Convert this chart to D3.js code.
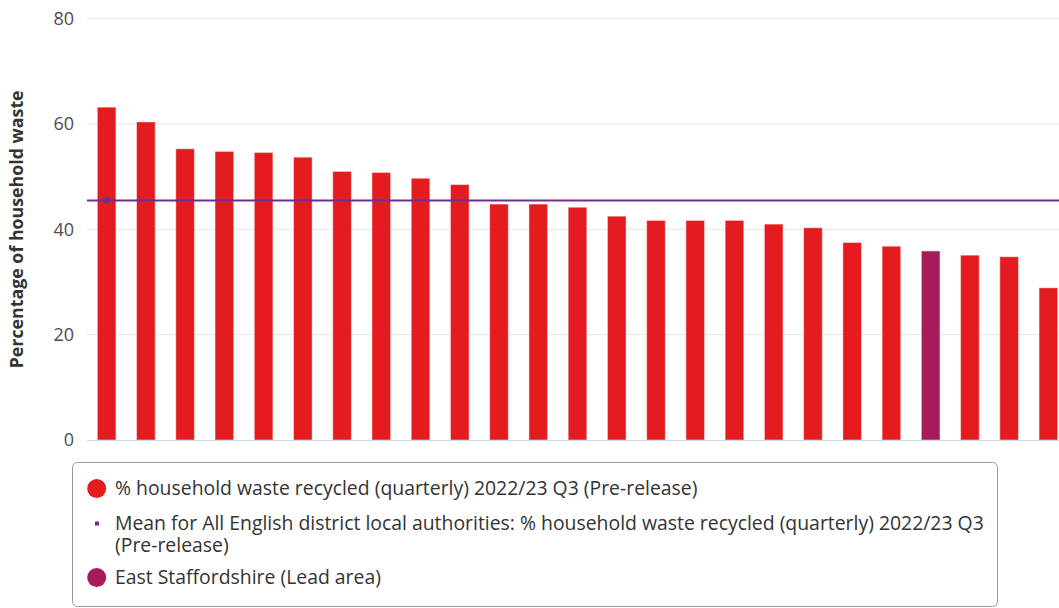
<!DOCTYPE html>
<html><head><meta charset="utf-8">
<script src="https://cdn.jsdelivr.net/npm/d3@7"></script>
<style>
html,body{margin:0;padding:0;background:#fff;overflow:hidden;}
svg{display:block;font-family:"Open Sans",sans-serif;}
</style></head>
<body>
<svg id="chart" width="1059" height="608"></svg>
<script>
const categories = ["District 1","District 2","District 3","District 4","District 5","District 6","District 7","District 8","District 9","District 10","District 11","District 12","District 13","District 14","District 15","District 16","District 17","District 18","District 19","District 20","District 21","East Staffordshire","District 23","District 24","District 25"];
const values = [63.2,60.4,55.3,54.8,54.6,53.7,51.0,50.8,49.7,48.5,44.8,44.8,44.2,42.5,41.7,41.7,41.7,41.0,40.3,37.5,36.8,35.9,35.1,34.8,28.9];
const leadArea = "East Staffordshire";
const meanValue = 45.5;
const yTicks = [0,20,40,60,80];
const yTitle = "Percentage of household waste";
const legendItems = [
  {type:"circle", color:"#e41c1f", lines:["% household waste recycled (quarterly) 2022/23 Q3 (Pre-release)"]},
  {type:"square", color:"#6f2c91", lines:["Mean for All English district local authorities: % household waste recycled (quarterly) 2022/23 Q3","(Pre-release)"]},
  {type:"circle", color:"#a91a58", lines:["East Staffordshire (Lead area)"]}
];

const svg = d3.select("#chart");
const x = d3.scaleBand().domain(categories).range([87, 1068]).paddingInner(0.525).paddingOuter(0.2625);
const y = d3.scaleLinear().domain([0, 80]).range([440, 18.7]);

// gridlines
svg.append("g").selectAll("line").data(yTicks.filter(d=>d>0)).join("line")
  .attr("x1", 87).attr("x2", 1059)
  .attr("y1", d=>y(d)).attr("y2", d=>y(d))
  .attr("stroke", "#e6e6e6").attr("stroke-width", 1);

// y axis labels
const yAxis = d3.axisLeft(y).tickValues(yTicks).tickSize(0).tickPadding(0);
const gy = svg.append("g").attr("transform", "translate(74,0)").call(yAxis);
gy.select(".domain").remove();
gy.selectAll("text").attr("font-family", "'Open Sans',sans-serif").attr("font-size", 18).attr("fill", "#4d4d4d").attr("dy", "0.33em");

// bars
svg.append("g").selectAll("rect").data(values).join("rect")
  .attr("x", (d,i)=>x(categories[i]))
  .attr("width", x.bandwidth())
  .attr("y", d=>y(d))
  .attr("height", d=>y(0)-y(d))
  .attr("fill", (d,i)=>categories[i]===leadArea ? "#a91a58" : "#e41c1f")
  .attr("stroke", "#fff").attr("stroke-opacity", 0.45).attr("stroke-width", 1);

// baseline
svg.append("line").attr("x1", 87).attr("x2", 1059).attr("y1", y(0)+0.5).attr("y2", y(0)+0.5)
  .attr("stroke", "#ccd6eb").attr("stroke-width", 1);

// mean line
svg.append("line").attr("x1", 87).attr("x2", 1059).attr("y1", y(meanValue)).attr("y2", y(meanValue))
  .attr("stroke", "#6f2c91").attr("stroke-width", 2);
svg.append("rect").attr("x", x(categories[0]) + x.bandwidth()/2 - 3).attr("y", y(meanValue)-3)
  .attr("width", 6).attr("height", 6).attr("fill", "#6f2c91");

// y title
svg.append("text").attr("transform", `translate(23,${(y(0)+y(80))/2}) rotate(-90)`)
  .attr("text-anchor", "middle").attr("font-size", 17.8).attr("font-weight", "bold").attr("fill", "#333")
  .text(yTitle);

// legend
const lg = svg.append("g");
lg.append("rect").attr("x", 72.5).attr("y", 462.5).attr("width", 925).attr("height", 144).attr("rx", 5)
  .attr("fill", "#fff").attr("stroke", "#999").attr("stroke-width", 1);
const itemY = [495, 530, 584];
legendItems.forEach((it, i) => {
  const by = itemY[i];
  if (it.type === "circle") {
    lg.append("circle").attr("cx", 96.7).attr("cy", by-6.5).attr("r", 9.5).attr("fill", it.color);
  } else {
    lg.append("rect").attr("x", 95).attr("y", by-8.5).attr("width", 4).attr("height", 4).attr("fill", it.color);
  }
  const t = lg.append("text").attr("x", 115).attr("y", by).attr("font-size", 19.4).attr("fill", "#333");
  it.lines.forEach((ln, j) => {
    t.append("tspan").attr("x", 115).attr("y", by + j*22).text(ln);
  });
});
</script>
</body></html>
